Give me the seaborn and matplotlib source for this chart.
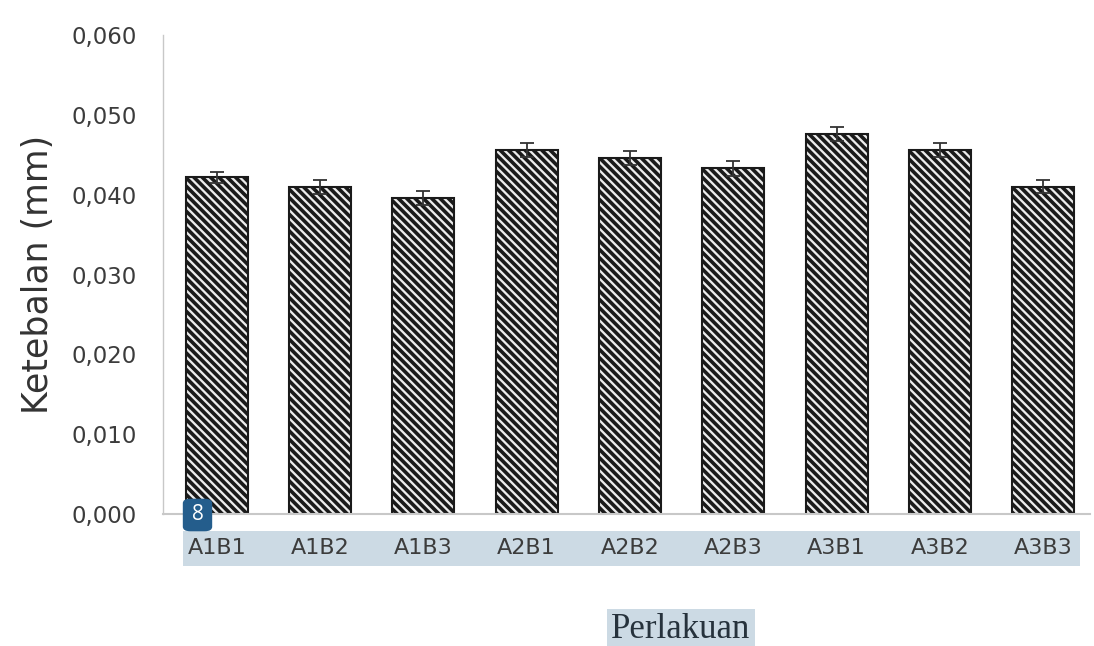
import matplotlib
matplotlib.use("Agg")
import matplotlib.pyplot as plt
import seaborn as sns
import pandas as pd
from matplotlib.patches import FancyBboxPatch, Rectangle
from matplotlib.ticker import FuncFormatter, MultipleLocator

categories = ["A1B1", "A1B2", "A1B3", "A2B1", "A2B2", "A2B3", "A3B1", "A3B2", "A3B3"]
values = [0.0422, 0.0410, 0.0396, 0.0456, 0.0446, 0.0433, 0.0476, 0.0456, 0.0410]
errors = [0.0007, 0.0009, 0.0009, 0.0009, 0.0009, 0.0009, 0.0009, 0.0009, 0.0008]

sns.set_theme(style="white")
plt.rcParams["font.family"] = ["DejaVu Sans"]
plt.rcParams["hatch.linewidth"] = 2.6
plt.rcParams["hatch.color"] = "#2a2a2a"

df = pd.DataFrame({"Perlakuan": categories, "Ketebalan": values})

fig = plt.figure(figsize=(10.94, 6.46), dpi=100)
ax = fig.add_axes([0.149, 0.2043, 0.847, 0.7415])

sns.barplot(data=df, x="Perlakuan", y="Ketebalan", ax=ax, color="#ececec",
            width=0.6, errorbar=None, edgecolor="#1a1a1a", linewidth=1.5,
            hatch="\\\\\\\\", saturation=1)
for p in ax.patches:
    p.set_hatch("\\\\\\\\")
ax.errorbar(range(len(categories)), values, yerr=errors, fmt="none",
            ecolor="#333333", elinewidth=1.3, capsize=5, capthick=1.3, zorder=5)

ax.set_ylim(0, 0.060)
ax.set_xlim(-0.52, 8.45)
ax.yaxis.set_major_locator(MultipleLocator(0.010))
ax.yaxis.set_major_formatter(FuncFormatter(lambda v, p: f"{v:.3f}".replace(".", ",")))

for s in ["top", "right"]:
    ax.spines[s].set_visible(False)
ax.spines["left"].set_color("#c8c8c8")
ax.spines["bottom"].set_color("#c8c8c8")
ax.spines["left"].set_linewidth(1.0)
ax.spines["bottom"].set_linewidth(1.5)
ax.tick_params(axis="y", length=0, pad=19, labelsize=16.5, labelcolor="#3c3c3c")
ax.tick_params(axis="x", length=0, pad=17, labelsize=16, labelcolor="#3c3c3c")
ax.set_xlabel("")
ax.set_ylabel("Ketebalan (mm)", fontsize=25, color="#333333")
ax.yaxis.set_label_coords(-0.117, 0.5)

# highlighted band behind x tick labels
W, H = 1094, 646
fig.patches.append(Rectangle((183 / W, 1 - 566 / H), (1080 - 183) / W, 35 / H,
                             transform=fig.transFigure, facecolor="#ccdae4",
                             edgecolor="none", zorder=-1))
# badge
fig.patches.append(FancyBboxPatch((185 / W, 1 - 530 / H), 25 / W, 30 / H,
                                  boxstyle="round,pad=0.002,rounding_size=0.007",
                                  transform=fig.transFigure, facecolor="#245d8c",
                                  edgecolor="none", zorder=10))
fig.text(197.5 / W, 1 - 515 / H, "8", color="white", fontsize=15,
         ha="center", va="center", family="Open Sans", zorder=11)

fig.text(681 / W, 1 - 630 / H, "Perlakuan", family="Liberation Serif", fontsize=25,
         color="#26323c", ha="center", va="center",
         bbox=dict(boxstyle="square,pad=0.12", facecolor="#ccdae4", edgecolor="none"))

fig.savefig("out.png", dpi=100)
